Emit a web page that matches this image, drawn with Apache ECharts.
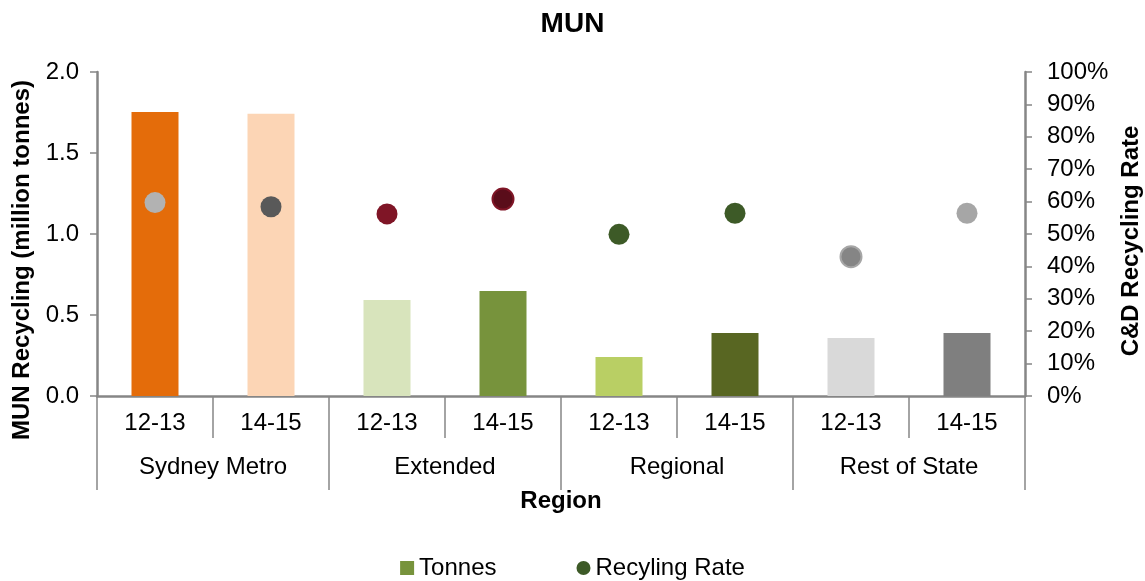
<!DOCTYPE html>
<html>
<head>
<meta charset="utf-8">
<script src="https://cdn.jsdelivr.net/npm/echarts@6/dist/echarts.min.js"></script>
<style>html,body{margin:0;padding:0;background:#fff}#c{width:1145px;height:581px}</style>
</head>
<body>
<div id="c"></div>
<script>
const periods = ['12-13','14-15','12-13','14-15','12-13','14-15','12-13','14-15'];
const regions = ['Sydney Metro','Extended','Regional','Rest of State'];
const tonnes = [1.753, 1.742, 0.593, 0.648, 0.240, 0.389, 0.358, 0.389];
const rates = [59.7, 58.4, 56.2, 60.8, 49.9, 56.4, 43.0, 56.4];
const leftTicks = [0, 0.5, 1.0, 1.5, 2.0];
const rightTicks = [0,10,20,30,40,50,60,70,80,90,100];

const barColors = ['#E46C0A','#FCD5B5','#D8E4BC','#77933C','#B9CF64','#586622','#D9D9D9','#7F7F7F'];
const dotColors = ['#B2B2B2','#595959','#7F1526','#5A0D1A','#3D5A27','#3D5A27','#858585','#A6A6A6'];
const dotBorders = [null,null,null,'#7F1526',null,null,'#A6A6A6',null];

const FONT = 'Liberation Sans, Arial, sans-serif';
const AX = '#868686';
const FS = 24;

const chart = echarts.init(document.getElementById('c'), null, {renderer:'canvas'});
chart.setOption({
  animation: false,
  backgroundColor: '#fff',
  textStyle: {fontFamily: FONT},
  title: {
    text: 'MUN', left: 'center', top: 5,
    textStyle: {fontFamily: FONT, fontWeight: 'bold', fontSize: 28, color: '#000'}
  },
  legend: {
    bottom: -4, left: 'center', itemWidth: 14, itemHeight: 14, itemGap: 80,
    textStyle: {fontFamily: FONT, fontSize: FS, color: '#000'},
    data: [{name:'Tonnes', icon:'rect'}, {name:'Recyling Rate', icon:'circle'}]
  },
  grid: {left: 97, right: 120, top: 72, bottom: 185, containLabel: false, outerBoundsMode: 'none'},
  xAxis: [
    {
      type: 'category', data: periods, position: 'bottom',
      axisLine: {show: true, lineStyle: {color: AX, width: 2.5}},
      axisTick: {show: true, interval: 0, length: 42, lineStyle: {color: AX, width: 1.5}},
      axisLabel: {interval: 0, margin: 15, fontSize: FS, color: '#000', fontFamily: FONT}
    },
    {
      type: 'category', data: regions, position: 'bottom', offset: 0,
      axisLine: {show: false},
      axisTick: {show: true, interval: 0, length: 94, lineStyle: {color: AX, width: 1.5}},
      axisLabel: {interval: 0, margin: 59, fontSize: FS, color: '#000', fontFamily: FONT},
      name: 'Region', nameLocation: 'middle', nameGap: 93,
      nameTextStyle: {fontFamily: FONT, fontWeight: 'bold', fontSize: FS, color: '#000'}
    }
  ],
  yAxis: [
    {
      type: 'value', min: 0, max: 2, interval: 0.5, position: 'left',
      splitLine: {show: false},
      axisLine: {show: true, lineStyle: {color: AX, width: 2.5}},
      axisTick: {show: true, length: 7, lineStyle: {color: AX, width: 1.5}},
      axisLabel: {margin: 18, fontSize: FS, color: '#000', fontFamily: FONT,
        formatter: v => v.toFixed(1)},
      name: 'MUN Recycling (million tonnes)', nameLocation: 'middle', nameGap: 61,
      nameTextStyle: {fontFamily: FONT, fontWeight: 'bold', fontSize: FS, color: '#000',
        padding: [0, 52, 0, 0]}
    },
    {
      type: 'value', min: 0, max: 100, interval: 10, position: 'right',
      splitLine: {show: false},
      axisLine: {show: true, lineStyle: {color: AX, width: 2.5}},
      axisTick: {show: true, length: 7, lineStyle: {color: AX, width: 1.5}},
      axisLabel: {margin: 22, fontSize: FS, color: '#000', fontFamily: FONT,
        formatter: v => v + '%'},
      name: 'C&D Recycling Rate', nameLocation: 'middle', nameGap: 92,
      nameTextStyle: {fontFamily: FONT, fontWeight: 'bold', fontSize: FS, color: '#000',
        padding: [0, 14, 0, 0]}
    }
  ],
  series: [
    {
      name: 'Tonnes', type: 'bar', xAxisIndex: 0, yAxisIndex: 0, barWidth: 47,
      itemStyle: {color: '#77933C'},
      data: tonnes.map((v, i) => ({value: v, itemStyle: {color: barColors[i]}}))
    },
    {
      name: 'Recyling Rate', type: 'scatter', xAxisIndex: 0, yAxisIndex: 1,
      symbol: 'circle', symbolSize: 21,
      itemStyle: {color: '#3D5A27', opacity: 1},
      data: rates.map((v, i) => ({value: v, itemStyle: dotBorders[i]
        ? {color: dotColors[i], borderColor: dotBorders[i], borderWidth: 2, opacity: 1}
        : {color: dotColors[i], opacity: 1}}))
    }
  ]
});
</script>
</body>
</html>
